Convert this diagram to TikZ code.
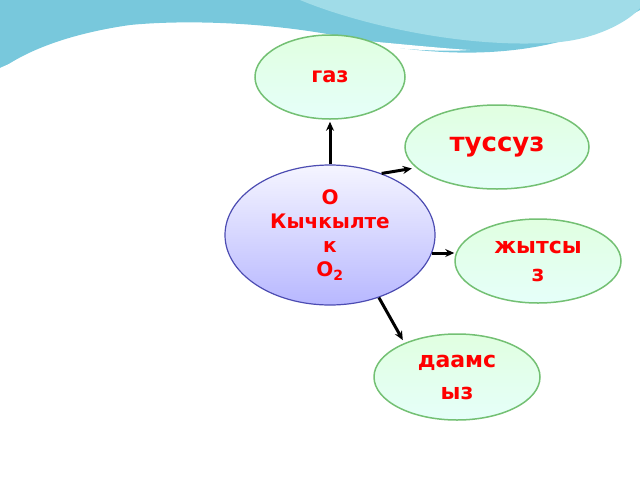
\documentclass[tikz,border=0pt]{standalone}
\usepackage{fontspec}
\setmainfont{DejaVu Sans}
\usetikzlibrary{positioning, shapes.geometric, arrows.meta}
\definecolor{wave}{RGB}{120,200,220}
\definecolor{wavelight}{RGB}{160,220,232}
\tikzset{%
	prop/.style={draw=green!55!black!55, line width=1.5pt, ellipse, inner sep=0mm,
		top color=green!12, bottom color=green!22!cyan!10,
		text=red, font=\bfseries\fontsize{21}{26}\selectfont, align=center},
	main/.style={draw=blue!40!gray, line width=1.2pt, ellipse, inner sep=0mm,
		top color=blue!4, bottom color=blue!28,
		text=red, font=\bfseries\fontsize{20}{24}\selectfont, align=center},
	sel/.style={-{Stealth[length=9pt, width=8pt]}, line width=3pt}
}
\begin{document}
\begin{tikzpicture}[x=1pt, y=-1pt]
  \useasboundingbox (0,0) rectangle (640,480);
  % background wave
  \fill[wave] (0,0) -- (640,0) -- (640,10) .. controls (560,55) and (470,60) .. (380,45)
    .. controls (280,20) and (180,20) .. (130,25) .. controls (60,35) and (20,55) .. (0,70) -- cycle;
  \fill[wavelight] (300,0) .. controls (360,25) and (470,50) .. (560,42)
    .. controls (600,38) and (630,20) .. (640,8) -- (640,0) -- cycle;
  \fill[white] (0,68) .. controls (60,40) and (200,20) .. (330,40)
    .. controls (400,50) and (440,52) .. (470,50) .. controls (390,45) and (250,25) .. (130,33)
    .. controls (60,40) and (20,58) .. (0,75) -- cycle;

  \node[main, minimum width=210, minimum height=140] (oxy) at (330,235) {О\\Кычкылте\\к\\О\textsubscript{2}};
  \node[prop, minimum width=150, minimum height=84] (gas) at (330,77) {газ};
  \node[prop, minimum width=184, minimum height=84, font=\bfseries\fontsize{26}{30}\selectfont] (color) at (497,147) {туссуз};
  \node[prop, minimum width=166, minimum height=84, font=\bfseries\fontsize{22}{28}\selectfont] (smell) at (538,261) {жытсы\\з};
  \node[prop, minimum width=166, minimum height=86, font=\bfseries\fontsize{22}{32}\selectfont] (taste) at (457,377) {даамс\\ыз};

  \draw[sel] (oxy.north) -- ([yshift=-2pt]gas.south);
  \draw[sel] (oxy.50) -- ([xshift=-5pt]color.195);
  \draw[sel] (oxy.-10) -- (oxy.-10 -| smell.west);
  \draw[sel] (oxy.-52) -- ([xshift=-30pt,yshift=-5pt]taste.120);
\end{tikzpicture}
\end{document}
